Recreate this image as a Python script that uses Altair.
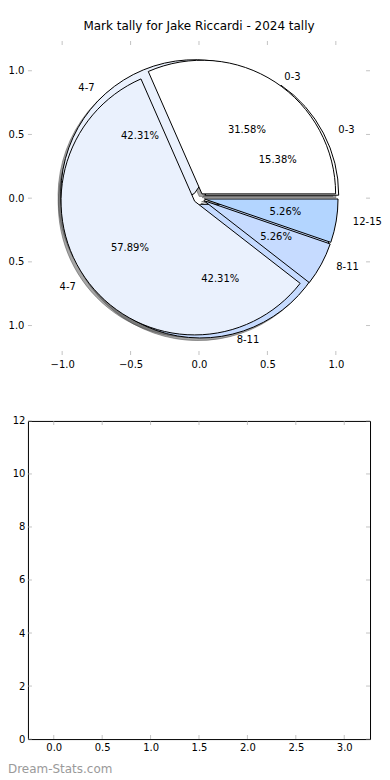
import math
import pandas as pd
import altair as alt

TITLE = "Mark tally for Jake Riccardi - 2024 tally"
WATERMARK = "Dream-Stats.com"

# Pie drawn on top (four mark bands)
pie_a_labels = ["0-3", "4-7", "8-11", "12-15"]
pie_a_pct = [31.58, 57.89, 5.26, 5.26]
# Pie drawn underneath (three mark bands)
pie_b_labels = ["0-3", "4-7", "8-11"]
pie_b_pct = [15.38, 42.31, 42.31]

band_domain = ["0-3", "4-7", "8-11", "12-15"]
band_colors = ["#ffffff", "#eaf1fd", "#c6dbff", "#b3d5ff"]

top_ticks = [-1.0, -0.5, 0.0, 0.5, 1.0]
bottom_xticks = [0.0, 0.5, 1.0, 1.5, 2.0, 2.5, 3.0]
bottom_yticks = [0, 2, 4, 6, 8, 10, 12]
bottom_categories = [0, 1, 2, 3]
bottom_values = [0, 0, 0, 0]

# layout / style constants
EXPLODE_A = 0.04
EXPLODE_B = 0.05
SHADOW = 0.02
R = 134
W = 343
H_TOP = 315
H_BOT = 319
FONT = "DejaVu Sans"
TICK_COLOR = "#aaaaaa"


def pie_rows(name, labels, pct, explode):
    rows = []
    total = sum(pct)
    a = 0.0
    for lab, p in zip(labels, pct):
        a1 = a
        a2 = a + 360.0 * p / total
        a = a2
        m = math.radians((a1 + a2) / 2)
        cx = explode * math.cos(m)
        cy = explode * math.sin(m)
        lx = cx + 1.1 * math.cos(m)
        rows.append(dict(
            pie=name, label=lab, pct=f"{p:.2f}%",
            t1=math.radians(90 - a2), t2=math.radians(90 - a1),
            cx=cx, cy=cy, sx=cx - SHADOW, sy=cy - SHADOW,
            lx=lx, ly=cy + 1.1 * math.sin(m),
            px=cx + 0.6 * math.cos(m), py=cy + 0.6 * math.sin(m),
            side="left" if lx > 0 else "right",
        ))
    return rows


pie_df = pd.DataFrame(
    pie_rows("B", pie_b_labels, pie_b_pct, EXPLODE_B)
    + pie_rows("A", pie_a_labels, pie_a_pct, EXPLODE_A)
)

xs_top = alt.Scale(domain=[-1.25, 1.25], nice=False, zero=False)
ys_top = alt.Scale(domain=[-1.232, 1.234], nice=False, zero=False)
ax_top_x = alt.Axis(values=top_ticks, format=".1f", ticks=False, tickSize=0, domain=False,
                    grid=False, labelPadding=4, title=None)
ax_top_y = alt.Axis(values=top_ticks, format=".1f", ticks=False, tickSize=0, domain=False,
                    grid=False, labelPadding=4, title=None)


def TX(f):
    return alt.X(f, type="quantitative", scale=xs_top, axis=ax_top_x)


def TY(f):
    return alt.Y(f, type="quantitative", scale=ys_top, axis=ax_top_y)


color = alt.Color("label:N", scale=alt.Scale(domain=band_domain, range=band_colors), legend=None)

base = alt.Chart(pie_df)

shadows = base.mark_arc(radius=R, fill="#4d4d4d", fillOpacity=0.5, stroke="#4d4d4d",
                        strokeOpacity=0.5, strokeWidth=1).encode(
    x=TX("sx"), y=TY("sy"),
    theta=alt.Theta("t1:Q", scale=None, stack=False), theta2="t2:Q",
)


def wedges(name):
    return base.transform_filter(alt.datum.pie == name).mark_arc(
        radius=R, stroke="black", strokeWidth=1
    ).encode(
        x=TX("cx"), y=TY("cy"),
        theta=alt.Theta("t1:Q", scale=None, stack=False), theta2="t2:Q",
        color=color,
    )


lab_left = base.transform_filter(alt.datum.side == "left").mark_text(
    align="left", baseline="middle", font=FONT, fontSize=10, color="black"
).encode(x=TX("lx"), y=TY("ly"), text="label:N")
lab_right = base.transform_filter(alt.datum.side == "right").mark_text(
    align="right", baseline="middle", font=FONT, fontSize=10, color="black"
).encode(x=TX("lx"), y=TY("ly"), text="label:N")
pct_text = base.mark_text(
    align="center", baseline="middle", font=FONT, fontSize=10, color="black"
).encode(x=TX("px"), y=TY("py"), text="pct:N")

ttick_df = pd.DataFrame({"v": top_ticks})
tt = alt.Chart(ttick_df)
top_tick_layers = [
    tt.mark_tick(orient="vertical", size=4, thickness=1, color=TICK_COLOR).encode(x=TX("v"), y=alt.value(2)),
    tt.mark_tick(orient="vertical", size=4, thickness=1, color=TICK_COLOR).encode(x=TX("v"), y=alt.value(H_TOP - 2)),
    tt.mark_tick(orient="horizontal", size=4, thickness=1, color=TICK_COLOR).encode(y=TY("v"), x=alt.value(2)),
    tt.mark_tick(orient="horizontal", size=4, thickness=1, color=TICK_COLOR).encode(y=TY("v"), x=alt.value(W - 2)),
]

top = alt.layer(
    shadows, wedges("B"), wedges("A"), lab_left, lab_right, pct_text, *top_tick_layers
).properties(
    width=W, height=H_TOP,
    title=alt.TitleParams(TITLE, font=FONT, fontSize=12, fontWeight="normal", color="black",
                          anchor="middle", frame="group", offset=8),
    view=alt.ViewBackground(strokeOpacity=0),
)

# ---- bottom (empty) panel ----
xs_bot = alt.Scale(domain=[-0.215, 3.215], nice=False, zero=False)
ys_bot = alt.Scale(domain=[0, 12], nice=False)
ax_bot_x = alt.Axis(values=bottom_xticks, format=".1f", ticks=False, tickSize=0, domain=False,
                    grid=False, labelPadding=3, title=None)
ax_bot_y = alt.Axis(values=bottom_yticks, format="d", ticks=False, tickSize=0, domain=False,
                    grid=False, labelPadding=3, title=None)


def BX(f):
    return alt.X(f, type="quantitative", scale=xs_bot, axis=ax_bot_x)


def BY(f):
    return alt.Y(f, type="quantitative", scale=ys_bot, axis=ax_bot_y)


bars = alt.Chart(pd.DataFrame({"cat": bottom_categories, "val": bottom_values})).mark_bar(
    color="#b3d5ff"
).encode(x=BX("cat"), y=BY("val"))

bxt = alt.Chart(pd.DataFrame({"v": bottom_xticks}))
byt = alt.Chart(pd.DataFrame({"v": bottom_yticks}))
bot_ticks = [
    bxt.mark_tick(orient="vertical", size=4, thickness=1, color=TICK_COLOR).encode(x=BX("v"), y=alt.value(2)),
    bxt.mark_tick(orient="vertical", size=4, thickness=1, color=TICK_COLOR).encode(x=BX("v"), y=alt.value(H_BOT - 2)),
    byt.mark_tick(orient="horizontal", size=4, thickness=1, color=TICK_COLOR).encode(y=BY("v"), x=alt.value(2)),
    byt.mark_tick(orient="horizontal", size=4, thickness=1, color=TICK_COLOR).encode(y=BY("v"), x=alt.value(W - 2)),
]

wm = alt.Chart(pd.DataFrame({"t": [WATERMARK]})).mark_text(
    align="left", baseline="middle", font=FONT, fontSize=12, color="#9a9a9a"
).encode(text="t:N", x=alt.value(-20), y=alt.value(H_BOT + 30))

bottom = alt.layer(bars, *bot_ticks, wm).properties(
    width=W, height=H_BOT,
    view=alt.ViewBackground(stroke="black", strokeOpacity=1, strokeWidth=1),
)

chart = alt.vconcat(top, bottom, spacing=66, bounds="flush").properties(
    padding={"left": -9, "top": 11, "right": 0, "bottom": 0},
).configure(font=FONT).configure_axis(
    labelFont=FONT, labelFontSize=10, labelColor="black"
).configure_view(strokeOpacity=0)

chart.save("out.html", embed_options={"renderer": "svg", "actions": False})
